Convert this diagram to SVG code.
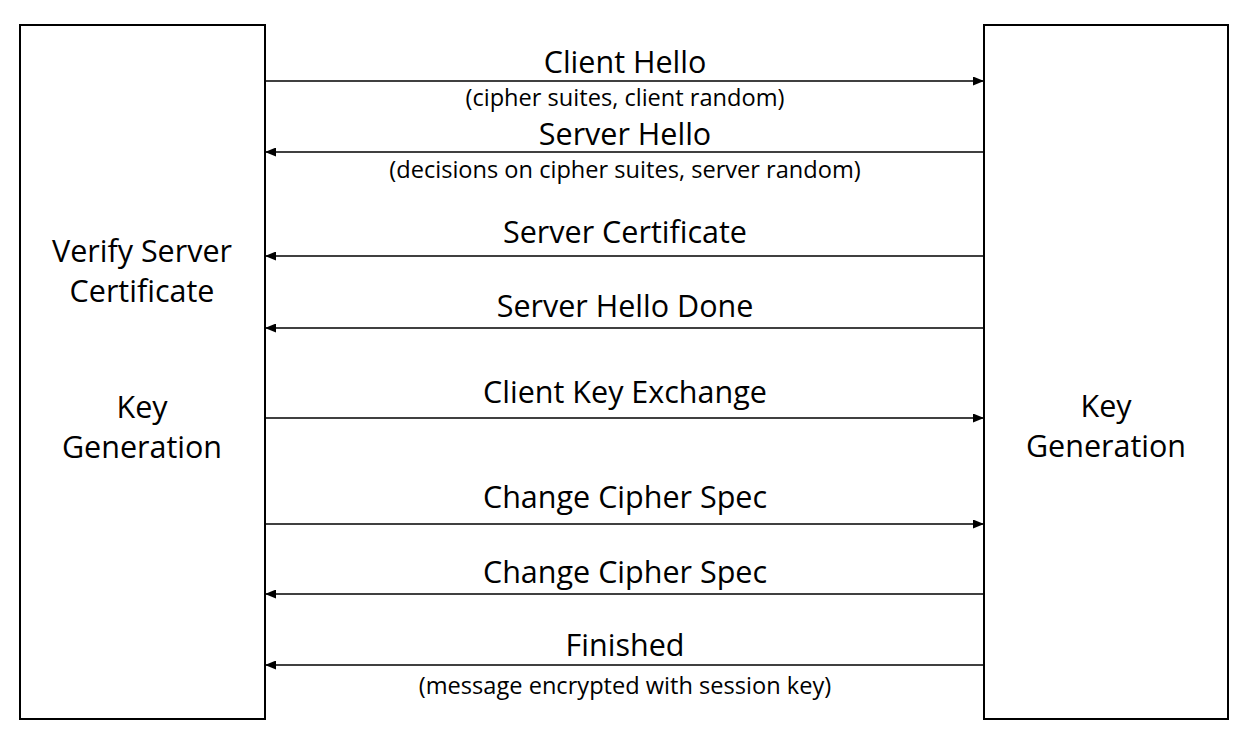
<svg xmlns="http://www.w3.org/2000/svg" width="1246" height="738" viewBox="0 0 1246 738">
<style>
.box{fill:#fff;stroke:#000;stroke-width:2}
.ln{stroke:#000;stroke-width:1.3;fill:none}
.t{font-family:"Open Sans",Lato,sans-serif;font-size:30.5px;text-anchor:middle;fill:#000}
.s{font-family:"Open Sans",Lato,sans-serif;font-size:23.6px;text-anchor:middle;fill:#000}
</style>
<defs>
<marker id="ah" viewBox="0 0 11 9" refX="11" refY="4.5" markerWidth="11" markerHeight="9" markerUnits="userSpaceOnUse" orient="auto">
<path d="M0,0 L11,4.5 L0,9 Z" fill="#000"/>
</marker>
</defs>
<g id="client">
<rect class="box" x="20" y="25" width="245" height="694"/>
<text class="t" x="142" y="262">Verify Server</text>
<text class="t" x="142" y="302">Certificate</text>
<text class="t" x="142" y="418">Key</text>
<text class="t" x="142" y="458">Generation</text>
</g>
<g id="server">
<rect class="box" x="984" y="25" width="244" height="694"/>
<text class="t" x="1106" y="417">Key</text>
<text class="t" x="1106" y="457">Generation</text>
</g>
<g id="connectors">
<line class="ln" x1="265" y1="81" x2="984" y2="81" marker-end="url(#ah)"/>
<line class="ln" x1="984" y1="152" x2="265" y2="152" marker-end="url(#ah)"/>
<line class="ln" x1="984" y1="256" x2="265" y2="256" marker-end="url(#ah)"/>
<line class="ln" x1="984" y1="328" x2="265" y2="328" marker-end="url(#ah)"/>
<line class="ln" x1="265" y1="418" x2="984" y2="418" marker-end="url(#ah)"/>
<line class="ln" x1="265" y1="524" x2="984" y2="524" marker-end="url(#ah)"/>
<line class="ln" x1="984" y1="594" x2="265" y2="594" marker-end="url(#ah)"/>
<line class="ln" x1="984" y1="665" x2="265" y2="665" marker-end="url(#ah)"/>
</g>
<g id="labels">
<text class="t" x="625" y="73">Client Hello</text>
<text class="s" x="625" y="106">(cipher suites, client random)</text>
<text class="t" x="625" y="145">Server Hello</text>
<text class="s" x="625" y="178">(decisions on cipher suites, server random)</text>
<text class="t" x="625" y="243">Server Certificate</text>
<text class="t" x="625" y="317">Server Hello Done</text>
<text class="t" x="625" y="403">Client Key Exchange</text>
<text class="t" x="625" y="508">Change Cipher Spec</text>
<text class="t" x="625" y="583">Change Cipher Spec</text>
<text class="t" x="625" y="656">Finished</text>
<text class="s" x="625" y="694">(message encrypted with session key)</text>
</g>
</svg>
